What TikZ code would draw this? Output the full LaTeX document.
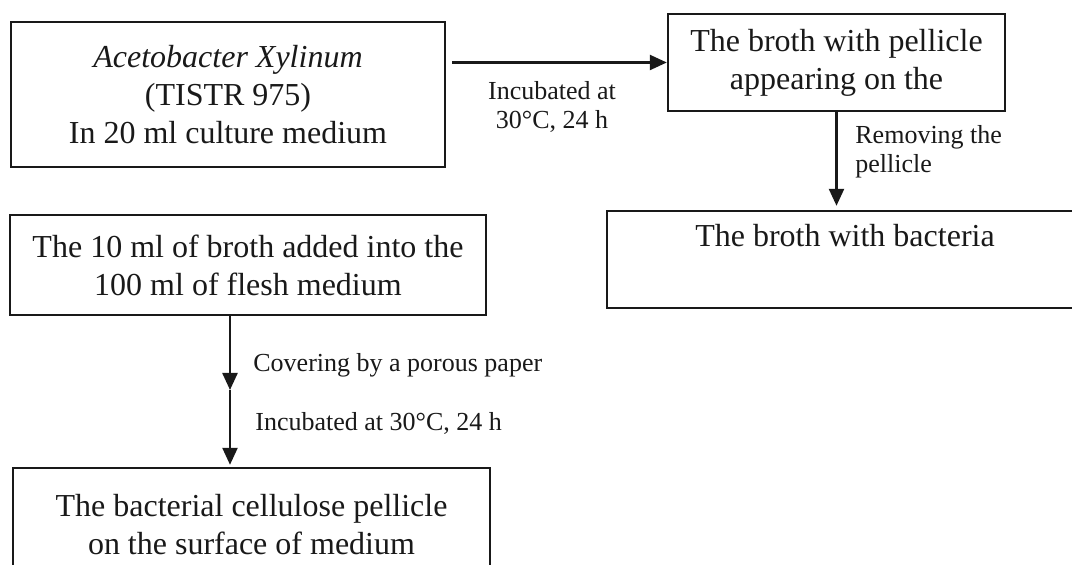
\documentclass[tikz,border=0pt]{standalone}
\usepackage{fontspec}
\setmainfont{Liberation Serif}
\usetikzlibrary{arrows.meta}
\colorlet{lineColor}{black!90}
\colorlet{textColor}{black!90}
\tikzstyle{stageBox}=[draw=lineColor,line width=1.2pt,rectangle,align=center,inner sep=0pt,text=textColor,font=\fontsize{16}{19}\selectfont]
\tikzstyle{stepLabel}=[inner sep=0pt,text=textColor,font=\fontsize{13}{14.5}\selectfont]
\tikzstyle{flowArrow}=[draw=lineColor,line width=1.2pt,-{Triangle[length=8.5pt,width=7.5pt]}]

\begin{document}
\begin{tikzpicture}[x=0.5pt,y=-0.5pt]
\useasboundingbox (0,0) rectangle (1072,565);
        \node[stageBox,minimum width=217pt,minimum height=72.5pt]
                (culture) at (228,94.5)
                {\textit{Acetobacter Xylinum}\\(TISTR 975)\\In 20 ml culture medium};
        \node[stageBox,minimum width=168.5pt,minimum height=48.5pt]
                (pellicle) at (836.5,62.5)
                {The broth with pellicle\\appearing on the};
        \node[stageBox,minimum width=238pt,text height=18pt,text depth=30.5pt]
                (broth) at (845,259.5)
                {The broth with bacteria};
        \node[stageBox,minimum width=238pt,minimum height=50pt]
                (inoculum) at (248,265)
                {The 10 ml of broth added into the\\100 ml of flesh medium};
        \node[stageBox,minimum width=238.5pt,minimum height=57pt]
                (product) at (251.5,525)
                {The bacterial cellulose pellicle\\on the surface of medium};
        \coordinate (midStep) at (230,390);
        \draw[flowArrow,shorten <=3pt] (culture.east |- pellicle.west) -- (pellicle.west);
        \draw[flowArrow,shorten >=2pt] (pellicle.south) -- (pellicle.south |- broth.north);
        \draw[flowArrow] (inoculum.south -| midStep) -- (midStep);
        \draw[flowArrow,shorten >=1pt] (midStep) -- (midStep |- product.north);
        \node[stepLabel,align=center] (incubateOne) at (552,107) {Incubated at\\30°C, 24 h};
        \node[stepLabel,align=left,anchor=west] (removing) at (855,152) {Removing the\\pellicle};
        \node[stepLabel,anchor=west] (covering) at (253,365) {Covering by a porous paper};
        \node[stepLabel,anchor=west] (incubateTwo) at (255,423) {Incubated at 30°C, 24 h};
\end{tikzpicture}
\end{document}
